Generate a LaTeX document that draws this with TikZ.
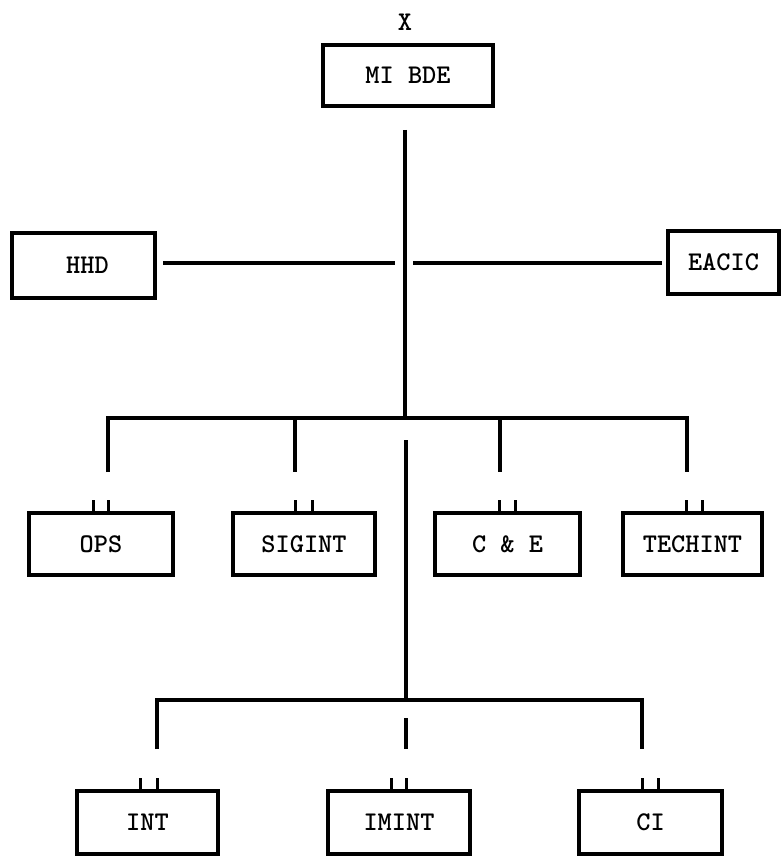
\documentclass[tikz,border=0pt]{standalone}
\usepackage{fontspec}
\begin{document}
\begin{tikzpicture}[x=1pt,y=-1pt,
  lbl/.style={font=\ttfamily\bfseries\fontsize{27}{27}\selectfont},
  box/.style={draw,line width=3.2pt,inner sep=0pt,lbl},
  conn/.style={line width=3.6pt},
  tick/.style={line width=3pt}]
\useasboundingbox (0,0) rectangle (783,856);
% boxes
\node[lbl] (x) at (405,22) {X};
\node[box,minimum width=170pt,minimum height=61pt] (mibde) at (408,75.5) {MI BDE};
\node[box,minimum width=143pt,minimum height=65pt] (hhd) at (83.5,265.5) {\hspace*{8pt}HHD};
\node[box,minimum width=111pt,minimum height=63pt] (eacic) at (723.5,262.5) {EACIC};
\node[box,minimum width=144pt,minimum height=62pt] (ops) at (101,544) {OPS};
\node[box,minimum width=142pt,minimum height=62pt] (sigint) at (304,544) {SIGINT};
\node[box,minimum width=145pt,minimum height=62pt] (ce) at (507.5,544) {C \& E};
\node[box,minimum width=139pt,minimum height=62pt] (techint) at (692.5,544) {TECHINT};
\node[box,minimum width=141pt,minimum height=63pt] (int) at (147.5,822.5) {INT};
\node[box,minimum width=142pt,minimum height=63pt] (imint) at (399,822.5) {IMINT};
\node[box,minimum width=143pt,minimum height=63pt] (ci) at (650.5,822.5) {CI};
% coordinates
\coordinate (m1) at (405,130);
\coordinate (j1) at (405,418);
\coordinate (hl) at (163,263);
\coordinate (hr) at (395,263);
\coordinate (el) at (413,263);
\coordinate (er) at (662,263);
\coordinate (b1l) at (108,418);
\coordinate (b1r) at (687,418);
\coordinate (d1) at (108,472);
\coordinate (d2t) at (295,418);
\coordinate (d2) at (295,472);
\coordinate (d3t) at (500,418);
\coordinate (d3) at (500,472);
\coordinate (d4) at (687,472);
\coordinate (m2) at (406,440);
\coordinate (j2) at (406,700);
\coordinate (b2l) at (157,700);
\coordinate (b2r) at (642,700);
\coordinate (e1) at (157,749);
\coordinate (e2t) at (406,718);
\coordinate (e2) at (406,749);
\coordinate (e3) at (642,749);
% connectors
\draw[conn] (m1) -- (j1);
\draw[conn] (hl) -- (hr);
\draw[conn] (el) -- (er);
\draw[conn] (d1) -- (b1l) -- (b1r) -- (d4);
\draw[conn] (d2t) -- (d2);
\draw[conn] (d3t) -- (d3);
\draw[conn] (m2) -- (j2);
\draw[conn] (e1) -- (b2l) -- (b2r) -- (e3);
\draw[conn] (e2t) -- (e2);
% ticks
\foreach \n/\a/\b in {ops/93/108,sigint/295/312,ce/499/515,techint/686/702,int/140/157,imint/391/406,ci/642/658}{
  \draw[tick] (\n.north -| \a,0) -- ++(0,-11);
  \draw[tick] (\n.north -| \b,0) -- ++(0,-11);
}
\end{tikzpicture}
\end{document}
